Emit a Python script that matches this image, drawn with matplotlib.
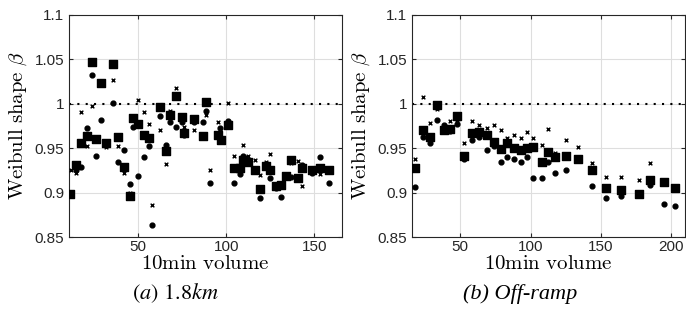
import matplotlib.pyplot as plt
import numpy as np

plt.rcParams['mathtext.fontset'] = 'cm'
plt.rcParams['font.family'] = ['Liberation Sans', 'DejaVu Sans']

# (a) 1.8km
a_sq_x = [11.3, 14.7, 17.5, 21.1, 23.6, 26.0, 28.7, 31.7, 35.7, 38.7, 41.7, 45.5, 46.8, 50.0,
          53.2, 56.4, 62.3, 65.8, 68.3, 71.5, 74.9, 76.2, 81.5, 87.0, 88.7, 95.3, 96.8, 101.1,
          104.2, 107.9, 109.4, 112.3, 116.0, 119.1, 122.3, 124.5, 127.9, 130.8, 133.6, 136.8,
          140.6, 143.0, 148.5, 153.2, 158.5]
a_sq_y = [0.898, 0.931, 0.956, 0.964, 1.047, 0.960, 1.023, 0.956, 1.045, 0.963, 0.929, 0.896,
          0.984, 0.977, 0.965, 0.962, 0.996, 0.947, 0.987, 1.009, 0.985, 0.967, 0.983, 0.964,
          1.002, 0.965, 0.959, 0.976, 0.928, 0.928, 0.937, 0.934, 0.925, 0.904, 0.930, 0.926,
          0.907, 0.908, 0.919, 0.937, 0.917, 0.928, 0.925, 0.928, 0.925]
a_ci_x = [11.3, 14.7, 17.5, 21.1, 23.6, 26.0, 28.7, 35.7, 38.7, 41.7, 45.5, 46.8, 50.0, 53.2,
          56.4, 58.1, 62.3, 65.8, 68.3, 71.5, 74.9, 76.2, 81.5, 87.0, 88.7, 90.6, 96.6, 101.1,
          104.5, 107.9, 109.4, 118.9, 124.5, 127.9, 130.8, 136.8, 143.0, 148.5, 153.2, 158.5]
a_ci_y = [0.900, 0.925, 0.929, 0.973, 1.032, 0.941, 0.982, 1.001, 0.935, 0.948, 0.910, 0.974,
          0.919, 0.940, 0.953, 0.863, 0.986, 0.954, 0.980, 0.974, 0.979, 0.965, 0.980, 0.979,
          0.992, 0.911, 0.973, 0.981, 0.911, 0.921, 0.941, 0.894, 0.916, 0.905, 0.895, 0.918,
          0.931, 0.922, 0.940, 0.911]
a_x_x = [11.9, 14.7, 17.5, 21.1, 23.6, 31.7, 35.7, 38.7, 41.7, 45.5, 50.0, 53.2, 56.4, 58.1,
         62.3, 65.8, 68.3, 71.5, 76.2, 81.5, 88.7, 90.6, 95.3, 101.1, 104.5, 109.4, 112.3,
         116.0, 119.1, 122.3, 124.5, 136.8, 140.6, 143.0, 153.2]
a_x_y = [0.926, 0.922, 0.991, 0.953, 0.997, 0.951, 1.027, 0.953, 0.922, 0.900, 1.004, 0.991,
         0.977, 0.886, 0.971, 0.932, 0.992, 1.018, 0.974, 0.970, 0.987, 0.925, 0.980, 1.001,
         0.941, 0.954, 0.941, 0.937, 0.920, 0.934, 0.944, 0.933, 0.936, 0.907, 0.921]

# (b) Off-ramp
b_x = [18.0, 23.5, 28.4, 33.2, 38.2, 42.9, 47.6, 52.6, 58.5, 63.3, 68.7, 74.2, 78.7, 83.4,
       88.2, 93.1, 97.2, 101.9, 107.8, 112.3, 117.3, 124.9, 133.4, 143.6, 153.6, 164.2,
       176.8, 184.6, 194.5, 202.6]
b_sq_y = [0.928, 0.970, 0.963, 0.999, 0.971, 0.972, 0.986, 0.941, 0.967, 0.968, 0.965, 0.957,
          0.949, 0.956, 0.950, 0.948, 0.950, 0.951, 0.934, 0.946, 0.940, 0.941, 0.938, 0.926,
          0.905, 0.903, 0.898, 0.914, 0.912, 0.905]
b_ci_y = [0.906, 0.963, 0.956, 0.982, 0.976, 0.969, 0.977, 0.938, 0.959, 0.963, 0.948, 0.952,
          0.934, 0.940, 0.938, 0.934, 0.940, 0.916, 0.917, 0.934, 0.922, 0.926, 0.937, 0.907,
          0.894, 0.896, np.nan, 0.908, 0.887, 0.885]
b_x_y = [0.938, 1.008, 0.978, 0.994, np.nan, 0.981, 0.982, 0.956, 0.981, 0.976, 0.973, 0.976,
         0.971, 0.962, 0.965, 0.961, 0.968, 0.962, 0.954, 0.972, 0.945, 0.959, 0.951, 0.933,
         0.918, 0.918, 0.914, 0.933, np.nan, np.nan]

panels = [
    (a_sq_x, a_sq_y, a_ci_x, a_ci_y, a_x_x, a_x_y, (10.9, 165.6), [50, 100, 150]),
    (b_x, b_sq_y, b_x, b_ci_y, b_x, b_x_y, (15.9, 209.7), [50, 100, 150, 200]),
]

fig = plt.figure(figsize=(6.86, 3.28), dpi=100)
lefts = [0.101, 0.601]
yt = [0.85, 0.9, 0.95, 1, 1.05, 1.1]
for i, (sx, sy, cx, cy, xx, xy, xl, xt) in enumerate(panels):
    ax = fig.add_axes([lefts[i], 0.2774, 0.3975, 0.677])
    ax.axhline(1, color='black', linestyle=(0, (1, 3)), linewidth=1.5, zorder=1)
    ax.scatter(sx, sy, marker='s', s=30, color='black', zorder=3)
    ax.scatter(cx, cy, marker='o', s=12, color='black', zorder=3)
    ax.scatter(xx, xy, marker='x', s=7, color='black', linewidths=1.0, zorder=3)
    ax.set_xlim(xl)
    ax.set_ylim(0.85, 1.1)
    ax.set_xticks(xt)
    ax.set_yticks(yt)
    ax.set_yticklabels(['0.85', '0.9', '0.95', '1', '1.05', '1.1'])
    ax.grid(color='#dedede', linewidth=0.8)
    ax.set_axisbelow(True)
    ax.tick_params(direction='in', length=3, labelsize=11, colors='#262626',
                   top=True, right=True)
    ax.tick_params(axis='x', pad=2)
    for sp in ax.spines.values():
        sp.set_color('#262626')
        sp.set_linewidth(0.8)
    ax.set_xlabel(r'$\mathrm{10min\ volume}$', fontsize=15, labelpad=0.5)
    ax.set_ylabel(r'$\mathrm{Weibull\ shape}\ \beta$', fontsize=15, labelpad=4)

fig.text(0.256, 0.105, r'$\mathit{(a)}\ 1.8\mathit{km}$', fontsize=16,
         ha='center', va='center', math_fontfamily='stix')
fig.text(0.758, 0.105, '(b) Off-ramp', fontsize=16, ha='center', va='center',
         family='Liberation Serif', style='italic')

fig.savefig('out.png', dpi=100)
